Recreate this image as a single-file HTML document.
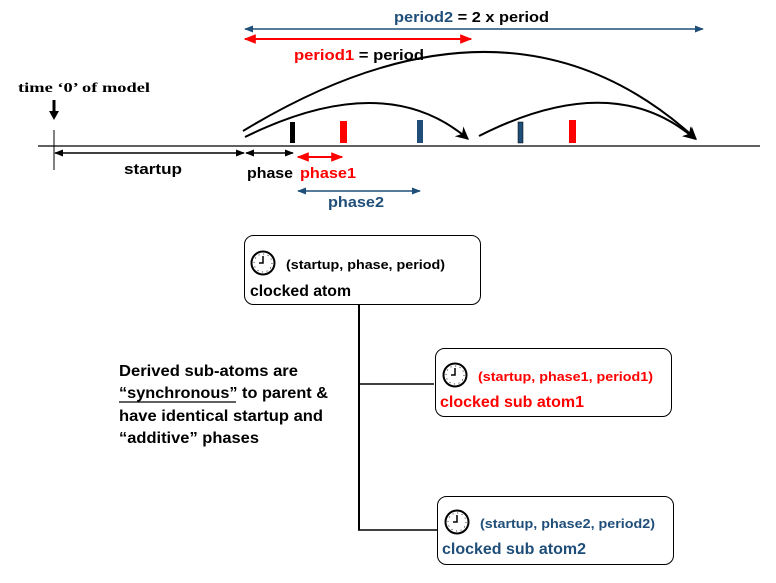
<!DOCTYPE html>
<html><head><meta charset="utf-8"><style>
body{margin:0;background:#fff}
svg{display:block}
text{font-family:"Liberation Sans",sans-serif;font-weight:bold}
</style></head><body>
<svg width="776" height="583" viewBox="0 0 776 583" xmlns="http://www.w3.org/2000/svg">
<defs>
<marker id="ab" viewBox="0 0 10 10" refX="9" refY="5" markerWidth="6" markerHeight="6" orient="auto-start-reverse"><path d="M0,1 L10,5 L0,9 z" fill="#1f4e79"/></marker>
<marker id="ar" viewBox="0 0 10 10" refX="9" refY="5" markerWidth="6" markerHeight="6" orient="auto-start-reverse"><path d="M0,1 L10,5 L0,9 z" fill="#f00"/></marker>
<marker id="ak" viewBox="0 0 10 10" refX="9" refY="5" markerWidth="6" markerHeight="6" orient="auto-start-reverse"><path d="M0,1 L10,5 L0,9 z" fill="#000"/></marker>
<marker id="big" viewBox="0 0 10 10" refX="9" refY="5" markerWidth="6.5" markerHeight="6.5" orient="auto"><path d="M0,0 L10,5 L0,10 L3,5 z" fill="#000"/></marker>
<g id="clk"><circle r="11.5" fill="#fff" stroke="#000" stroke-width="2"/><circle r="9" fill="none" stroke="#000" stroke-width="0.8" stroke-dasharray="1 3.7"/><path d="M0,-7 L0,0 L-4,0" stroke="#000" stroke-width="1.5" fill="none"/></g>
</defs>
<line x1="245" y1="29" x2="703" y2="29" stroke="#1f4e79" stroke-width="1.5" marker-start="url(#ab)" marker-end="url(#ab)"/>
<text x="394" y="22" font-size="15" fill="#1f4e79" textLength="155" lengthAdjust="spacingAndGlyphs">period2 <tspan fill="#000">= 2 x period</tspan></text>
<line x1="245" y1="39" x2="471" y2="39" stroke="#f00" stroke-width="2" marker-start="url(#ar)" marker-end="url(#ar)"/>
<text x="294" y="60" font-size="15" fill="#f00" textLength="130" lengthAdjust="spacingAndGlyphs">period1 <tspan fill="#000">= period</tspan></text>
<text x="18" y="92" font-size="14" style="font-family:'Liberation Serif',serif" textLength="132" lengthAdjust="spacingAndGlyphs">time ‘0’ of model</text>
<line x1="54" y1="100" x2="54" y2="112" stroke="#000" stroke-width="3"/>
<path d="M49,111 L59,111 L54,120 z" fill="#000"/>
<line x1="38" y1="146" x2="760" y2="146" stroke="#000" stroke-width="1.2"/>
<line x1="54" y1="130" x2="54" y2="170" stroke="#000" stroke-width="1"/>
<line x1="55" y1="153" x2="244" y2="153" stroke="#000" stroke-width="1.5" marker-start="url(#ak)" marker-end="url(#ak)"/>
<text x="124" y="174" font-size="15" textLength="58" lengthAdjust="spacingAndGlyphs">startup</text>
<line x1="246" y1="153" x2="293" y2="153" stroke="#000" stroke-width="1.5" marker-start="url(#ak)" marker-end="url(#ak)"/>
<text x="247" y="178" font-size="15" textLength="46" lengthAdjust="spacingAndGlyphs">phase</text>
<line x1="298" y1="157" x2="342" y2="157" stroke="#f00" stroke-width="2" marker-start="url(#ar)" marker-end="url(#ar)"/>
<text x="300" y="178" font-size="15" fill="#f00" textLength="56" lengthAdjust="spacingAndGlyphs">phase1</text>
<line x1="298" y1="191" x2="420" y2="191" stroke="#1f4e79" stroke-width="1.5" marker-start="url(#ab)" marker-end="url(#ab)"/>
<text x="328" y="207" font-size="15" fill="#1f4e79" textLength="56" lengthAdjust="spacingAndGlyphs">phase2</text>
<rect x="290" y="122" width="5" height="21" fill="#000"/>
<rect x="340" y="121" width="7" height="22" fill="#f00"/>
<rect x="417" y="120" width="6" height="23" fill="#1f4e79"/>
<rect x="518" y="122" width="5" height="21" fill="#1f4e79" stroke="#000" stroke-width="0.5"/>
<rect x="569" y="120" width="7" height="23" fill="#f00"/>
<path d="M245,137 Q385,68 468,139" fill="none" stroke="#000" stroke-width="2" marker-end="url(#big)"/>
<path d="M479,136 Q613,68 695,139" fill="none" stroke="#000" stroke-width="2" marker-end="url(#big)"/>
<path d="M243,131 Q510,-31 696,139" fill="none" stroke="#000" stroke-width="2" marker-end="url(#big)"/>
<line x1="359" y1="305" x2="359" y2="530" stroke="#000" stroke-width="2"/>
<line x1="358" y1="384" x2="434" y2="384" stroke="#000" stroke-width="1.5"/>
<line x1="358" y1="530" x2="437" y2="530" stroke="#000" stroke-width="1.5"/>
<rect x="244.5" y="235.5" width="236" height="69" rx="9" fill="#fff" stroke="#000" stroke-width="1"/>
<use href="#clk" x="263" y="263"/>
<text x="286" y="269" font-size="12.5" textLength="159" lengthAdjust="spacingAndGlyphs">(startup, phase, period)</text>
<text x="250" y="296" font-size="16" textLength="101" lengthAdjust="spacingAndGlyphs">clocked atom</text>
<rect x="435.5" y="348.5" width="236" height="68" rx="9" fill="#fff" stroke="#000" stroke-width="1"/>
<use href="#clk" x="455" y="375"/>
<text x="478" y="381" font-size="12.5" fill="#f00" textLength="175" lengthAdjust="spacingAndGlyphs">(startup, phase1, period1)</text>
<text x="440" y="407" font-size="16" fill="#f00" textLength="144" lengthAdjust="spacingAndGlyphs">clocked sub atom1</text>
<rect x="437.5" y="496.5" width="236" height="68" rx="9" fill="#fff" stroke="#000" stroke-width="1"/>
<use href="#clk" x="457" y="522"/>
<text x="480" y="528" font-size="12.5" fill="#1f4e79" textLength="175" lengthAdjust="spacingAndGlyphs">(startup, phase2, period2)</text>
<text x="442" y="554" font-size="16" fill="#1f4e79" textLength="144" lengthAdjust="spacingAndGlyphs">clocked sub atom2</text>
<text x="119" y="376" font-size="16" textLength="179" lengthAdjust="spacingAndGlyphs">Derived sub-atoms are</text>
<text x="119" y="398" font-size="16" textLength="209" lengthAdjust="spacingAndGlyphs">“synchronous” to parent &amp;</text>
<line x1="119" y1="402" x2="236" y2="402" stroke="#000" stroke-width="1.2"/>
<text x="119" y="421" font-size="16" textLength="204" lengthAdjust="spacingAndGlyphs">have identical startup and</text>
<text x="119" y="443" font-size="16" textLength="140" lengthAdjust="spacingAndGlyphs">“additive” phases</text>
</svg>
</body></html>
